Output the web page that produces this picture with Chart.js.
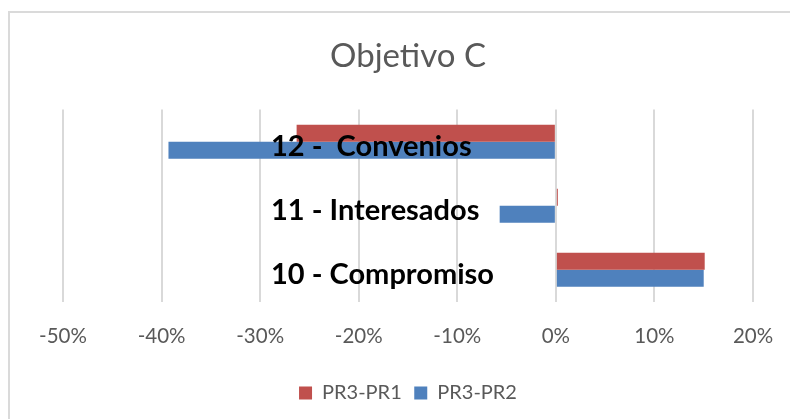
<!DOCTYPE html>
<html>
<head>
<meta charset="utf-8">
<script src="https://cdn.jsdelivr.net/npm/chart.js@4/dist/chart.umd.min.js"></script>
<style>
    html, body { margin: 0; padding: 0; background: #fff; overflow: hidden; }
    #frame {
        position: absolute;
        left: 8px;
        top: 11px;
        width: 795px;
        height: 422px;
        border: 2px solid #dadada;
        box-sizing: border-box;
    }
    #frame canvas { display: block; }
</style>
</head>
<body>
<div id="frame"><canvas id="mainChart" width="791" height="418"></canvas></div>
<script>
// Chart data
const categories = ['12 -  Convenios', '11 - Interesados', '10 - Compromiso'];
const pr3pr1 = [-26.3, 0.2, 15.1];
const pr3pr2 = [-39.3, -5.7, 15.0];
const xTicks = { min: -50, max: 20, step: 10 };

// Category names are drawn inside the plot, on top of the bars
const categoryLabels = {
    id: 'categoryLabels',
    afterDatasetsDraw(chart) {
        const { ctx, chartArea, scales } = chart;
        ctx.save();
        ctx.font = 'bold 29px Lato';
        ctx.fillStyle = '#000';
        ctx.textBaseline = 'middle';
        ctx.textAlign = 'left';
        chart.data.labels.forEach((label, i) => {
            const y = scales.y.getPixelForValue(i);
            ctx.fillText(label, chartArea.left + 208, y + 5);
        });
        ctx.restore();
    }
};

const ctx = document.getElementById('mainChart').getContext('2d');

new Chart(ctx, {
    type: 'bar',
    data: {
        labels: categories,
        datasets: [
            {
                label: 'PR3-PR1',
                data: pr3pr1,
                backgroundColor: '#C0504D',
                borderWidth: 0
            },
            {
                label: 'PR3-PR2',
                data: pr3pr2,
                backgroundColor: '#4F81BD',
                borderWidth: 0
            }
        ]
    },
    options: {
        indexAxis: 'y',
        responsive: false,
        animation: false,
        datasets: {
            bar: { categoryPercentage: 0.53, barPercentage: 1 }
        },
        layout: {
            padding: { left: 53, right: 48, top: 0, bottom: 18 }
        },
        plugins: {
            title: {
                display: true,
                text: 'Objetivo C',
                color: '#595959',
                font: { family: 'Lato', size: 33, weight: 'normal' },
                padding: { top: 24, bottom: 33 }
            },
            legend: {
                position: 'bottom',
                labels: {
                    boxWidth: 13,
                    boxHeight: 13,
                    padding: 12.5,
                    color: '#595959',
                    font: { family: 'Lato', size: 20, lineHeight: 1 }
                }
            },
            tooltip: { enabled: false }
        },
        scales: {
            x: {
                min: xTicks.min,
                max: xTicks.max,
                grid: { color: '#d9d9d9', lineWidth: 2, drawTicks: false },
                border: { display: false },
                ticks: {
                    stepSize: xTicks.step,
                    padding: 22,
                    color: '#595959',
                    font: { family: 'Lato', size: 20.5 },
                    callback: (value) => `${value}%`
                }
            },
            y: {
                display: false
            }
        }
    },
    plugins: [categoryLabels]
});
</script>
</body>
</html>
